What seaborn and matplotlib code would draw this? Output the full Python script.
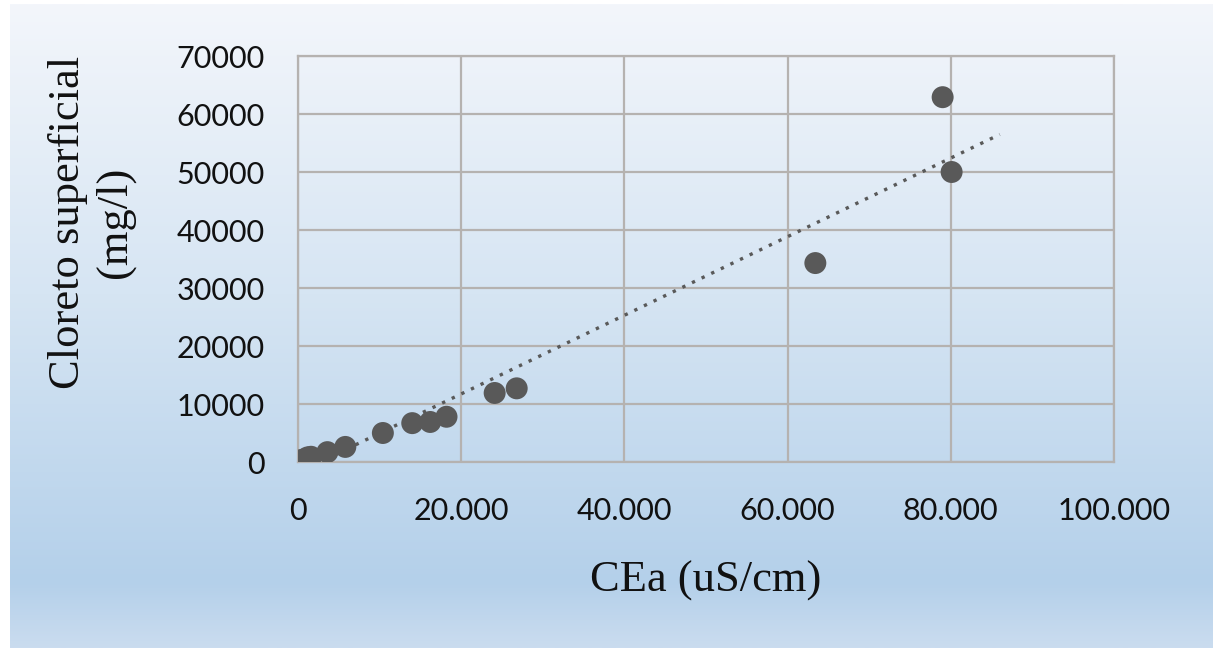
import numpy as np
import matplotlib
matplotlib.use("Agg")
import matplotlib.pyplot as plt
from matplotlib.colors import LinearSegmentedColormap
from matplotlib.ticker import FuncFormatter
import seaborn as sns

# dados
cea = [0, 300, 800, 1200, 1600, 3600, 5800, 10400, 14000, 16200, 18200, 24100, 26800, 63400, 79000, 80100]
cloreto = [100, 300, 500, 800, 900, 1700, 2600, 5000, 6700, 6900, 7800, 11900, 12700, 34300, 62900, 50000]
x_ticks = [0, 20000, 40000, 60000, 80000, 100000]
y_ticks = [0, 10000, 20000, 30000, 40000, 50000, 60000, 70000]
tendencia_fim = 86000

sns.set_theme(style="white")
plt.rcParams['font.family'] = ['Lato', 'DejaVu Sans']

fig = plt.figure(figsize=(12.13, 6.48), dpi=100)

# fundo em degrade
bg = fig.add_axes([10 / 1213, 0, 1 - 10 / 1213, 1 - 4 / 648], zorder=-10)
cmap = LinearSegmentedColormap.from_list(
    "fundo", [(0, "#f3f6fb"), (0.45, "#d6e5f3"), (0.9, "#b4d0ea"), (1.0, "#cadcef")])
bg.imshow(np.linspace(0, 1, 256).reshape(-1, 1), aspect="auto", cmap=cmap,
          extent=[0, 1, 1, 0])
bg.axis("off")

ax = fig.add_axes([298 / 1213, 1 - 462 / 648, 816 / 1213, 406 / 648])
ax.set_facecolor("none")

cor = "#595959"
sns.scatterplot(x=cea, y=cloreto, ax=ax, color=cor, s=250, edgecolor="none", zorder=3)

# linha de tendencia linear
a, b = np.polyfit(cea, cloreto, 1)
xt = np.array([min(cea), tendencia_fim])
ax.plot(xt, a * xt + b, color=cor, lw=2.4, linestyle=(0, (1, 2.2)),
        dash_capstyle="butt", zorder=2)

ax.set_xlim(0, 100000)
ax.set_ylim(0, 70000)
ax.set_xticks(x_ticks)
ax.set_yticks(y_ticks)
ax.xaxis.set_major_formatter(FuncFormatter(lambda v, p: f"{int(v):,}".replace(",", ".")))
ax.yaxis.set_major_formatter(FuncFormatter(lambda v, p: f"{int(v)}"))
ax.tick_params(axis="x", length=0, pad=25, labelsize=22, colors="#111111")
ax.tick_params(axis="y", length=0, pad=24, labelsize=22, colors="#111111")

ax.grid(True, color="#b5b2b0", lw=1.6)
for s in ax.spines.values():
    s.set_color("#b5b2b0")
    s.set_linewidth(1.6)

ax.set_xlabel("CEa (uS/cm)", family="Liberation Serif", fontsize=32, color="#111111",
              labelpad=26)
ax.set_ylabel("Cloreto superficial\n(mg/l)", family="Liberation Serif", fontsize=32,
              color="#111111", linespacing=1.2)
ax.yaxis.set_label_coords(-0.2, 0.59)

fig.savefig("out.png", dpi=100)
